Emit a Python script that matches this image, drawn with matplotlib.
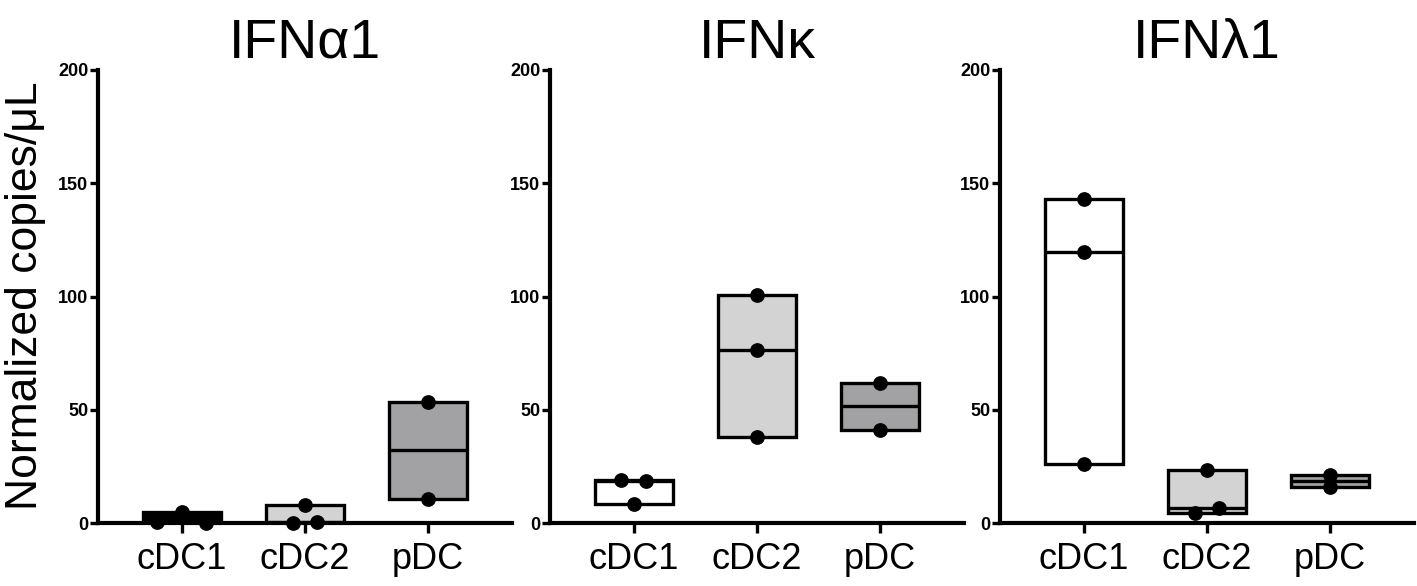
import matplotlib

matplotlib.use("Agg")
import matplotlib.pyplot as plt
import numpy as np

plt.rcParams["font.family"] = ["Liberation Sans", "DejaVu Sans"]

CELL_TYPES = ["cDC1", "cDC2", "pDC"]
GENES = ["IFNα1", "IFNκ", "IFNλ1"]
Y_TICKS = [0, 50, 100, 150, 200]

# normalized copies/uL, one list per cell type
IFNA1_VALUES = [[0.3, 4.7, 0.2], [0.2, 7.8, 0.6], [53.5, 10.8]]
IFNK_VALUES = [[18.8, 18.6, 8.5], [100.8, 76.2, 37.8], [62.0, 41.2]]
IFNL1_VALUES = [[143.0, 119.7, 26.0], [23.6, 4.5, 6.8], [21.2, 16.0]]

PANEL_VALUES = [IFNA1_VALUES, IFNK_VALUES, IFNL1_VALUES]
PANEL_FILLS = [
    ["black", "#d3d3d3", "#a2a2a4"],
    ["white", "#d3d3d3", "#a2a2a4"],
    ["white", "#d3d3d3", "#a2a2a4"],
]

W, H = 1417, 586
PANEL_LEFT_PX = [98, 550, 1000]
PANEL_WIDTH_PX = 414
AX_TOP_PX, AX_BOTTOM_PX = 70, 523


def swarm_offsets(values, gap=5.0, step=0.2):
    """Spread points that sit too close in y side by side, like a column scatter."""
    values = np.asarray(values, dtype=float)
    order = np.argsort(values, kind="stable")
    clusters: list[list[int]] = []
    for idx in order:
        if clusters and values[idx] - values[clusters[-1][-1]] < gap:
            clusters[-1].append(idx)
        else:
            clusters.append([idx])
    offsets = np.zeros(len(values))
    for cluster in clusters:
        cluster = sorted(cluster)
        n = len(cluster)
        for i, idx in enumerate(cluster):
            offsets[idx] = (i - (n - 1) / 2) * step
    return offsets


fig = plt.figure(figsize=(W / 100, H / 100), dpi=100)

bar_width = 0.63
for gene, groups, fills, left_px in zip(GENES, PANEL_VALUES, PANEL_FILLS, PANEL_LEFT_PX):
    ax = fig.add_axes([
        left_px / W,
        1 - AX_BOTTOM_PX / H,
        PANEL_WIDTH_PX / W,
        (AX_BOTTOM_PX - AX_TOP_PX) / H,
    ])
    x = np.arange(len(CELL_TYPES))
    lows = [min(g) for g in groups]
    highs = [max(g) for g in groups]
    meds = [float(np.median(g)) for g in groups]

    ax.bar(
        x, np.subtract(highs, lows), bottom=lows, width=bar_width,
        color=fills, edgecolor="black", linewidth=2.4, zorder=2,
    )
    ax.hlines(meds, x - bar_width / 2, x + bar_width / 2, color="black",
              linewidth=2.4, zorder=3)
    for xi, g in zip(x, groups):
        ax.plot(xi + swarm_offsets(g), g, "o", color="black", markersize=9.6,
                linestyle="none", clip_on=False, zorder=4)

    ax.set_xlim(-0.68, 2.68)
    ax.set_ylim(0, 200)
    ax.set_yticks(Y_TICKS)
    ax.set_xticks(x)
    ax.set_xticklabels(CELL_TYPES)
    ax.spines[["top", "right"]].set_visible(False)
    ax.spines[["left", "bottom"]].set_linewidth(3)
    ax.tick_params(axis="x", length=7, width=2.4, labelsize=26, pad=7)
    ax.tick_params(axis="y", length=6, width=2.4, labelsize=13, pad=1)
    for lab in ax.get_yticklabels():
        lab.set_fontweight("bold")
    ax.set_title(gene, fontsize=40, pad=8)

fig.text(0.018, 1 - 296 / H, "Normalized copies/μL", rotation=90,
         ha="center", va="center", fontsize=32)

fig.savefig("out.png", dpi=100)
